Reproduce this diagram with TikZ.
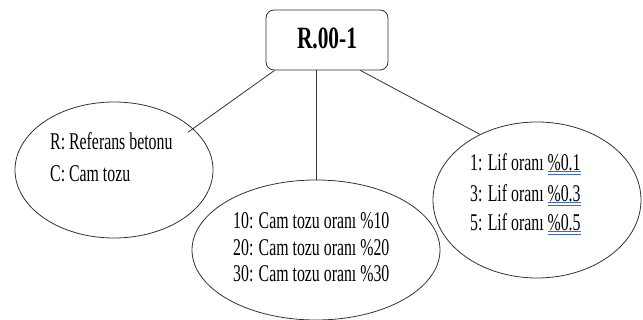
\documentclass[tikz,border=0pt]{standalone}
\usepackage{fontspec}
\setmainfont{Liberation Serif}[FakeStretch=0.66]
\newfontfamily\titlefont{Liberation Serif}[FakeStretch=0.69]
\usetikzlibrary{shapes.geometric}
\definecolor{lnk}{RGB}{55,105,215}
\definecolor{ln}{RGB}{50,50,50}
\newcommand\linkul[1]{\setbox0=\hbox{#1}\rlap{\usebox0}\rlap{\color{lnk}\rule[-1.2pt]{\wd0}{0.9pt}}{\color{lnk}\rule[-4.2pt]{\wd0}{0.9pt}}}
\tikzset{
  oval/.style={draw=ln, line width=0.8pt, ellipse, inner sep=0pt},
  txt/.style={anchor=base west, inner sep=0pt, font=\fontsize{24}{28}\selectfont},
  conn/.style={draw=ln, line width=0.8pt},
  titlebox/.style={draw=ln, line width=0.8pt, rounded corners=8pt, minimum width=122pt, minimum height=60pt, inner sep=0pt}
}
\begin{document}
\begin{tikzpicture}[x=1pt,y=-1pt]
\useasboundingbox (0,0) rectangle (643,320);
\node[titlebox] (top) at (327,40) {};
\node[anchor=base, inner sep=0pt, font=\fontsize{31}{34}\titlefont\bfseries] (toptxt) at (327,49) {R.00-1};
\node[oval, minimum width=198pt, minimum height=136pt] (L) at (114,170) {};
\node[oval, minimum width=248pt, minimum height=140pt] (M) at (316,250) {};
\node[oval, minimum width=208pt, minimum height=156pt] (R) at (537,200) {};
\node[txt] (l1) at (50,150) {R: Referans betonu};
\node[txt] (l2) at (50,182) {C: Cam tozu};
\node[txt] (m1) at (233,229) {10: Cam tozu oranı \%10};
\node[txt] (m2) at (233,256) {20: Cam tozu oranı \%20};
\node[txt] (m3) at (233,282) {30: Cam tozu oranı \%30};
\node[txt] (r1) at (470,171) {1: Lif oranı \linkul{\%0.1}};
\node[txt] (r2) at (470,202) {3: Lif oranı \linkul{\%0.3}};
\node[txt] (r3) at (470,231) {5: Lif oranı \linkul{\%0.5}};
\coordinate (tl) at ([xshift=9pt]top.south west);
\coordinate (tr) at ([xshift=-28pt]top.south east);
\coordinate (tm) at ([xshift=-11pt]top.south);
\draw[conn] (tl) -- ([shift={(-6pt,-3pt)}]L.27);
\draw[conn] (tm) -- (M.north);
\draw[conn] (tr) -- (R.131);
\end{tikzpicture}
\end{document}
